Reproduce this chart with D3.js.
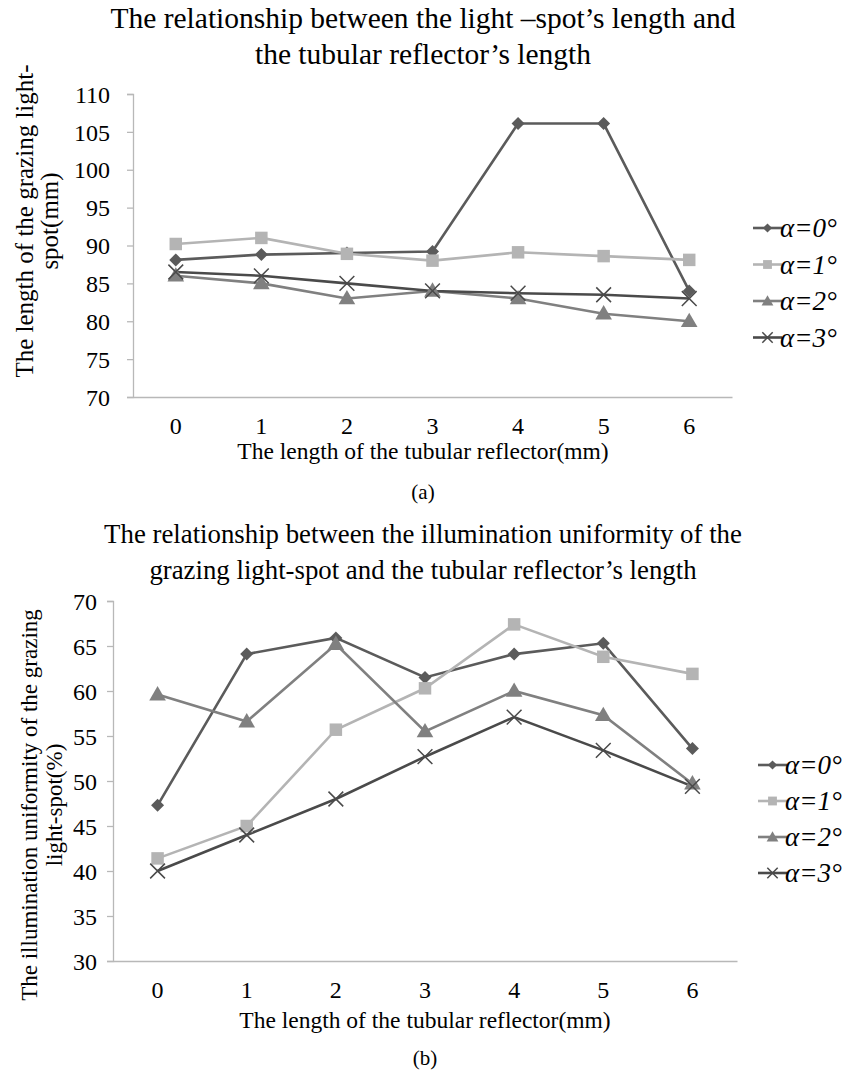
<!DOCTYPE html>
<html>
<head>
<meta charset="utf-8">
<script src="https://cdn.jsdelivr.net/npm/d3@7"></script>
<style>
  body { margin: 0; background: #fff; }
  text { font-family: "Liberation Serif", "Times New Roman", serif; fill: #000; }
</style>
</head>
<body>
<div id="chart"></div>
<script>
// Data

var categories = ["0", "1", "2", "3", "4", "5", "6"];
var seriesNames = ["α=0°", "α=1°", "α=2°", "α=3°"];

// (a) length of the grazing light-spot (mm)
var spotA0 = [88.1, 88.8, 89.0, 89.2, 106.1, 106.1, 84.0];
var spotA1 = [90.2, 91.0, 88.9, 88.0, 89.1, 88.6, 88.1];
var spotA2 = [86.0, 85.0, 83.0, 84.0, 83.0, 81.0, 80.0];
var spotA3 = [86.5, 86.0, 85.0, 84.0, 83.7, 83.5, 83.0];
var spotTicks = [70, 75, 80, 85, 90, 95, 100, 105, 110];

// (b) illumination uniformity of the grazing light-spot (%)
var unifA0 = [47.3, 64.1, 65.9, 61.5, 64.1, 65.3, 53.6];
var unifA1 = [41.4, 45.0, 55.7, 60.3, 67.4, 63.8, 61.9];
var unifA2 = [59.6, 56.6, 65.2, 55.5, 60.0, 57.3, 49.7];
var unifA3 = [40.0, 44.0, 48.0, 52.7, 57.1, 53.4, 49.4];
var unifTicks = [30, 35, 40, 45, 50, 55, 60, 65, 70];

var colors = ["#5b5b5b", "#b4b4b4", "#808080", "#4a4a4a"];
var shapes = ["diamond", "square", "triangle", "cross"];

var svg = d3.select("#chart")
    .append("svg")
    .attr("width", 842)
    .attr("height", 1074);

// draw a single marker at (0,0) inside group g
function drawMarker(g, shape, color, size) {
    if (shape === "diamond") {
        g.append("path")
            .attr("d", d3.symbol().type(d3.symbolDiamond2).size(size * 9))
            .attr("fill", color);
    } else if (shape === "square") {
        g.append("path")
            .attr("d", d3.symbol().type(d3.symbolSquare).size(size * 13))
            .attr("fill", color);
    } else if (shape === "triangle") {
        g.append("path")
            .attr("d", d3.symbol().type(d3.symbolTriangle).size(size * 10))
            .attr("transform", "translate(0,1)")
            .attr("fill", color);
    } else {
        g.append("path")
            .attr("d", d3.symbol().type(d3.symbolX).size(size * 12))
            .attr("fill", "none")
            .attr("stroke", color)
            .attr("stroke-width", 1.5);
    }
}

function drawChart(cfg) {
    var g = svg.append("g");

    var x = d3.scaleBand()
        .domain(categories)
        .range([cfg.left, cfg.right]);

    var y = d3.scaleLinear()
        .domain([cfg.ticks[0], cfg.ticks[cfg.ticks.length - 1]])
        .range([cfg.bottom, cfg.top]);

    // title
    g.append("text")
        .attr("x", cfg.titleX)
        .attr("y", cfg.titleY)
        .attr("text-anchor", "middle")
        .attr("font-size", cfg.titleSize)
        .selectAll("tspan")
        .data(cfg.title)
        .enter()
        .append("tspan")
        .attr("x", cfg.titleX)
        .attr("dy", (d, i) => i === 0 ? 0 : cfg.titleLead)
        .text(d => d);

    // y axis
    var yAxis = g.append("g")
        .attr("transform", `translate(${cfg.left},0)`)
        .call(d3.axisLeft(y).tickValues(cfg.ticks).tickSize(6).tickPadding(cfg.yPad));
    yAxis.select(".domain").attr("stroke", "#b8b8b8").attr("stroke-width", 1.3);
    yAxis.selectAll(".tick line").attr("stroke", "#b8b8b8").attr("stroke-width", 1.3);
    yAxis.selectAll(".tick text")
        .attr("font-size", 24)
        .attr("font-family", "Liberation Serif")
        .attr("fill", "#000")
        .attr("dy", "0.34em");

    // x axis
    var xAxis = g.append("g")
        .attr("transform", `translate(0,${cfg.bottom})`)
        .call(d3.axisBottom(x).tickSize(0).tickPadding(cfg.xPad));
    xAxis.select(".domain").attr("stroke", "#b8b8b8").attr("stroke-width", 1.3);
    xAxis.selectAll(".tick text")
        .attr("font-size", 24)
        .attr("font-family", "Liberation Serif")
        .attr("fill", "#000");

    // axis titles
    g.append("text")
        .attr("x", cfg.xTitleX)
        .attr("y", cfg.xTitleY)
        .attr("text-anchor", "middle")
        .attr("font-size", 23.5)
        .text("The length of the tubular reflector(mm)");

    var yTitle = g.append("text")
        .attr("transform", `translate(${cfg.yTitleX},${cfg.yTitleY}) rotate(-90)`)
        .attr("text-anchor", "middle")
        .attr("font-size", cfg.yTitleSize);
    yTitle.selectAll("tspan")
        .data(cfg.yTitle)
        .enter()
        .append("tspan")
        .attr("x", 0)
        .attr("dy", (d, i) => i === 0 ? 0 : 25)
        .text(d => d);

    // sub-caption
    g.append("text")
        .attr("x", cfg.capX)
        .attr("y", cfg.capY)
        .attr("text-anchor", "middle")
        .attr("font-size", 21)
        .text(cfg.caption);

    var line = d3.line()
        .x((d, i) => x(categories[i]) + x.bandwidth() / 2)
        .y(d => y(d));

    cfg.series.forEach(function(values, s) {
        g.append("path")
            .datum(values)
            .attr("d", line)
            .attr("fill", "none")
            .attr("stroke", colors[s])
            .attr("stroke-width", 2.6);
    });

    cfg.series.forEach(function(values, s) {
        values.forEach(function(v, i) {
            var m = g.append("g")
                .attr("transform", `translate(${x(categories[i]) + x.bandwidth() / 2},${y(v)})`);
            drawMarker(m, shapes[s], colors[s], 12);
        });
    });

    // legend
    var legend = g.append("g")
        .attr("transform", `translate(${cfg.legX},${cfg.legY})`);
    seriesNames.forEach(function(name, s) {
        var row = legend.append("g")
            .attr("transform", `translate(0,${s * cfg.legStep})`);
        row.append("line")
            .attr("x1", 0)
            .attr("x2", 29)
            .attr("stroke", colors[s])
            .attr("stroke-width", 2.6);
        var m = row.append("g").attr("transform", "translate(14.5,0)");
        drawMarker(m, shapes[s], colors[s], 6);
        row.append("text")
            .attr("x", 27)
            .attr("dy", "0.34em")
            .attr("font-size", 27)
            .attr("font-style", "italic")
            .text(name);
    });
}

drawChart({
    title: ["The relationship between the light \u2013spot\u2019s length and",
            "the tubular reflector\u2019s length"],
    titleX: 423, titleY: 28, titleSize: 29.5, titleLead: 36,
    left: 133, right: 732, top: 94, bottom: 397,
    ticks: spotTicks,
    yPad: 17, xPad: 20,
    xTitleX: 423, xTitleY: 459,
    yTitle: ["The length of the grazing light-", "spot(mm)"],
    yTitleX: 33, yTitleY: 221, yTitleSize: 25,
    caption: "(a)", capX: 423, capY: 499,
    series: [spotA0, spotA1, spotA2, spotA3],
    legX: 753, legY: 228, legStep: 36.5
});

drawChart({
    title: ["The relationship between  the illumination uniformity of the",
            "grazing light-spot and the tubular reflector\u2019s length"],
    titleX: 423, titleY: 543, titleSize: 26.8, titleLead: 36,
    left: 113, right: 737, top: 601, bottom: 961,
    ticks: unifTicks,
    yPad: 10, xPad: 20,
    xTitleX: 425, xTitleY: 1028,
    yTitle: ["The illumination uniformity of the grazing", "light-spot(%)"],
    yTitleX: 37, yTitleY: 805, yTitleSize: 23,
    caption: "(b)", capX: 425, capY: 1065,
    series: [unifA0, unifA1, unifA2, unifA3],
    legX: 758, legY: 765, legStep: 36
});
</script>
</body>
</html>
